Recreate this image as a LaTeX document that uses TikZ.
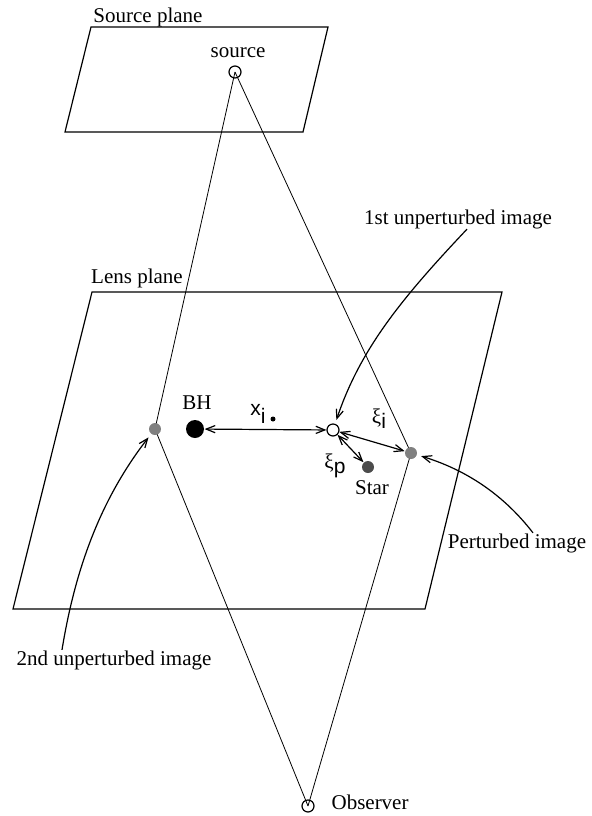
\documentclass[tikz,border=0pt]{standalone}
\usepackage{fontspec}
\setmainfont{Liberation Serif}
\setsansfont{Liberation Sans}
\usetikzlibrary{arrows.meta,backgrounds}

\begin{document}
\begin{tikzpicture}[x=0.5pt, y=-0.5pt, line width=0.6pt,
    >={Straight Barb[length=4.5pt,width=3.6pt]},
    every node/.style={font=\rmfamily\fontsize{10.5}{12}\selectfont, inner sep=0pt},
    blob/.style={circle, minimum size=#1, inner sep=0pt}]
    \useasboundingbox (0,0) rectangle (591,816);
    % planes
    \draw (91,27) -- (328,27) -- (303,132) -- (65,132) -- cycle;
    \draw (92,292) -- (502,292) -- (425,609) -- (13,609) -- cycle;
    \node (srcplane) at (148,17) {Source plane};
    \node (lensplane) at (137,278) {Lens plane};
    % source and observer
    \node[blob=6pt, draw] (src) at (235,72) {};
    \node (srclab) at (238,53) {source};
    \node[blob=6pt, draw] (obs) at (308,806) {};
    \node[anchor=west] (obslab) at (331,802) {Observer};
    % images, black hole and star
    \node[blob=6pt, fill=gray] (img2) at (155,429) {};
    \node[blob=6pt, fill=gray] (pimg) at (411,453) {};
    \node[blob=6pt, draw, fill=white] (img1) at (333,430) {};
    \node[blob=9pt, fill=black] (bh) at (195,429) {};
    \node (bhlab) at (197,403) {BH};
    \node[blob=6pt, fill=black!70] (star) at (368,467) {};
    \node (starlab) at (372,488) {Star};
    % rays
    \begin{scope}[on background layer]
        \draw (src.center) -- (img2.center) -- (obs.center);
        \draw (src.center) -- (pimg.center) -- (obs.center);
    \end{scope}
    % distances
    \draw[<->] (bh) -- (img1);
    \draw[<->] (img1) -- (pimg);
    \draw[<->] (img1) -- (star);
    \node (xlab) at (258,414) {\sffamily x\raisebox{-0.7ex}{i}};
    \node[blob=2.5pt, fill=black] (xdot) at (273,419) {};
    \node (xiilab) at (379,419) {ξ\raisebox{-0.5ex}{\sffamily i}};
    \node (xiplab) at (335,466) {ξ\raisebox{-0.5ex}{\sffamily p}};
    % labels with pointers
    \node (lab1) at (458,219) {1st unperturbed image};
    \node (lab2) at (114,660) {2nd unperturbed image};
    \node (lab3) at (517,543) {Perturbed image};
    \draw[->, shorten >=2pt] ([xshift=4.5pt]lab1.south) .. controls (400,300) and (360,350) .. (img1);
    \draw[->, shorten >=2pt] ([xshift=-26pt]lab2.north) .. controls (75,570) and (100,500) .. (img2);
    \draw[->, shorten >=2pt] ([xshift=8pt]lab3.north) .. controls (500,490) and (460,468) .. (pimg);
\end{tikzpicture}
\end{document}
